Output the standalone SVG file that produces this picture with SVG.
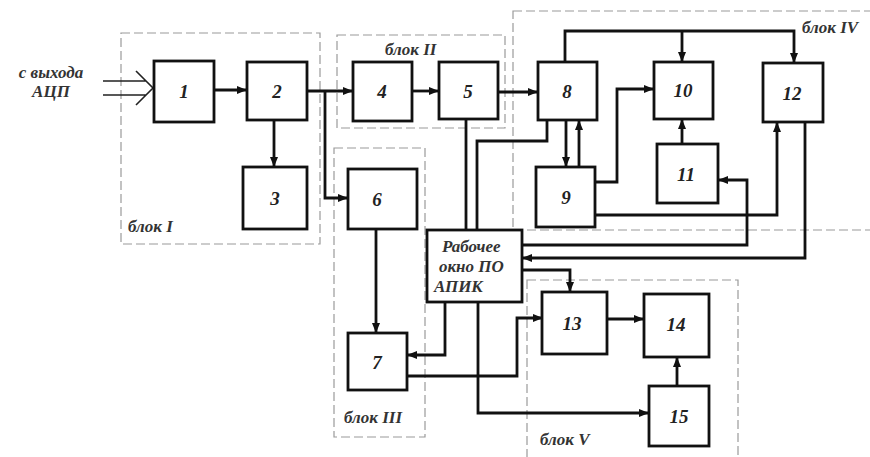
<svg xmlns="http://www.w3.org/2000/svg" width="870" height="457" viewBox="0 0 870 457">
<defs>
<marker id="ah" viewBox="0 0 10 8" refX="10" refY="4" markerWidth="10" markerHeight="8" markerUnits="userSpaceOnUse" orient="auto">
<path d="M0,0 L10,4 L0,8 Z" fill="#111"/>
</marker>
</defs>
<style>
.box{fill:#fff;stroke:#111;stroke-width:2.8}
.grp{fill:none;stroke:#9a9a9a;stroke-width:1.2;stroke-dasharray:9,4}
.c{fill:none;stroke:#111;stroke-width:2.8}
.a{marker-end:url(#ah)}
.n{font-family:"Liberation Serif",serif;font-weight:bold;font-style:italic;font-size:19px;fill:#222;text-anchor:middle}
.l{font-family:"Liberation Serif",serif;font-weight:bold;font-style:italic;font-size:17px;fill:#333}
</style>
<rect width="870" height="457" fill="#fff"/>
<g id="groups">
<rect class="grp" x="121" y="33" width="199" height="211"/>
<rect class="grp" x="337" y="35" width="168" height="93"/>
<rect class="grp" x="334" y="148" width="91" height="289"/>
<rect class="grp" x="513" y="11" width="370" height="219"/>
<rect class="grp" x="527" y="280" width="211" height="190"/>
<text class="l" x="128" y="232">блок I</text>
<text class="l" x="385" y="55">блок II</text>
<text class="l" x="344" y="423">блок III</text>
<text class="l" x="802" y="33">блок IV</text>
<text class="l" x="540" y="445">блок V</text>
</g>
<g id="input">
<text class="l" x="51" y="78" text-anchor="middle">с выхода</text>
<text class="l" x="51" y="97" text-anchor="middle">АЦП</text>
<path d="M103,81 H146 M103,95 H146 M136,71 L153,88 L136,105" fill="none" stroke="#222" stroke-width="1.6"/>
</g>
<g id="connectors">
<path class="c a" d="M214,90 H247"/>
<path class="c a" d="M307,91 H353"/>
<path class="c a" d="M325,91 V198 H348"/>
<path class="c a" d="M274,120 V167"/>
<path class="c a" d="M412,91 H439"/>
<path class="c a" d="M498,92 H538"/>
<path class="c a" d="M565,62 V31 H794 V63"/>
<path class="c a" d="M682,31 V62"/>
<path class="c a" d="M566,120 V167"/>
<path class="c a" d="M579,167 V120"/>
<path class="c a" d="M595,182 H617 V89 H654"/>
<path class="c a" d="M682,144 V119"/>
<path class="c a" d="M595,215 H777 V122"/>
<path class="c a" d="M522,245 H747 V180 H718"/>
<path class="c a" d="M805,122 V258 H522"/>
<path class="c a" d="M522,270 H570 V292"/>
<path class="c" d="M466,119 V230"/>
<path class="c" d="M547,120 V141 H477 V230"/>
<path class="c a" d="M376,229 V333"/>
<path class="c a" d="M445,302 V355 H407"/>
<path class="c a" d="M407,376 H517 V318 H543"/>
<path class="c a" d="M478,302 V413 H649"/>
<path class="c a" d="M607,319 H644"/>
<path class="c a" d="M677,386 V357"/>
</g>
<g id="n1"><rect class="box" x="154" y="61" width="60" height="61"/><text class="n" x="184" y="98">1</text></g>
<g id="n2"><rect class="box" x="247" y="62" width="60" height="58"/><text class="n" x="277" y="98">2</text></g>
<g id="n3"><rect class="box" x="243" y="167" width="64" height="62"/><text class="n" x="275" y="205">3</text></g>
<g id="n4"><rect class="box" x="353" y="62" width="59" height="59"/><text class="n" x="382" y="98">4</text></g>
<g id="n5"><rect class="box" x="439" y="62" width="59" height="57"/><text class="n" x="468" y="98">5</text></g>
<g id="n6"><rect class="box" x="348" y="169" width="69" height="60"/><text class="n" x="377" y="206">6</text></g>
<g id="n7"><rect class="box" x="348" y="333" width="59" height="57"/><text class="n" x="377" y="369">7</text></g>
<g id="n8"><rect class="box" x="538" y="62" width="59" height="58"/><text class="n" x="567" y="98">8</text></g>
<g id="n9"><rect class="box" x="536" y="167" width="59" height="60"/><text class="n" x="566" y="204">9</text></g>
<g id="n10"><rect class="box" x="654" y="62" width="59" height="57"/><text class="n" x="683" y="97">10</text></g>
<g id="n11"><rect class="box" x="657" y="144" width="61" height="59"/><text class="n" x="686" y="181">11</text></g>
<g id="n12"><rect class="box" x="763" y="63" width="60" height="59"/><text class="n" x="792" y="100">12</text></g>
<g id="n13"><rect class="box" x="542" y="292" width="65" height="62"/><text class="n" x="572" y="330">13</text></g>
<g id="n14"><rect class="box" x="644" y="294" width="65" height="63"/><text class="n" x="676" y="331">14</text></g>
<g id="n15"><rect class="box" x="649" y="386" width="60" height="60"/><text class="n" x="679" y="423">15</text></g>
<g id="apik"><rect class="box" x="427" y="230" width="95" height="72"/>
<text class="l" x="442" y="252">Рабочее</text>
<text class="l" x="439" y="272">окно ПО</text>
<text class="l" x="434" y="292">АПИК</text></g>
</svg>
